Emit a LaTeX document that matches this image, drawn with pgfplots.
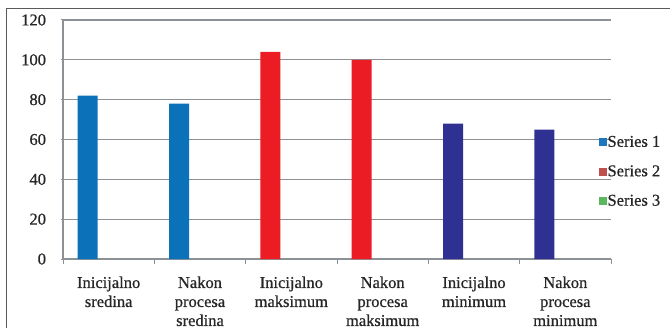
\documentclass[border=0pt]{standalone}
\usepackage{pgfplots}
\pgfplotsset{compat=1.18}
\usepackage{fontspec}
\setmainfont{Liberation Serif}
\newfontfamily\chartfont[FakeBold=0.7]{Liberation Serif}

\definecolor{barblue}{HTML}{0B72B9}
\definecolor{barred}{HTML}{EC1C24}
\definecolor{barpurple}{HTML}{2E3192}
\definecolor{legblue}{HTML}{1F77C0}
\definecolor{legred}{HTML}{C0504D}
\definecolor{leggreen}{HTML}{5CB85C}
\definecolor{gridgray}{HTML}{8C9196}
\definecolor{framegray}{HTML}{5A5A5A}

\begin{document}
\begin{tikzpicture}[x=1bp,y=1bp]
\useasboundingbox (0,0) rectangle (670,327);
\clip (0,0) rectangle (670,327);
% outer chart frame
\draw[framegray, line width=1.3bp] (6.5,-20) -- (6.5,318.5) -- (800,318.5);

\begin{axis}[
  at={(63bp,68bp)}, anchor=south west,
  scale only axis,
  width=548bp, height=239bp,
  xmin=-0.5, xmax=5.5,
  ymin=0, ymax=120,
  ytick={0,20,...,120},
  xtick={0,...,5},
  xticklabels={{Inicijalno\\sredina},{Nakon\\procesa\\sredina},{Inicijalno\\maksimum},{Nakon\\procesa\\maksimum},{Inicijalno\\minimum},{Nakon\\procesa\\minimum}},
  minor xtick={-0.5,0.5,...,5.5},
  major x tick style={draw=none},
  minor x tick style={gridgray, line width=1bp},
  y tick style={gridgray, line width=1bp},
  tick align=outside,
  major tick length=5bp, minor tick length=5bp,
  ymajorgrids,
  major grid style={gridgray, line width=1.1bp},
  axis line style={gridgray, line width=1.1bp},
  axis x line=bottom, axis y line=left,
  x axis line style={-}, y axis line style={-},
  /pgf/number format/assume math mode=true,
  tick label style={font=\chartfont\fontsize{16.5bp}{19bp}\selectfont, text=black!85},
  xticklabel style={align=center, yshift=-9bp},
  yticklabel style={xshift=-11bp},
  ybar, bar width=20bp, bar shift=-21bp,
  legend cell align=left,
  legend style={draw=none, fill=none, at={(axis description cs:0.978,0.366)}, anchor=west,
    font=\chartfont\fontsize{16.5bp}{19bp}\selectfont, text=black!85, inner sep=0pt,
    row sep=15bp, nodes={inner sep=1bp}},
  legend image code/.code={\fill[#1] (0bp,-3.5bp) rectangle (7bp,3.5bp);},
]
\addplot[fill=barblue, draw=none, forget plot] coordinates {(0,82) (1,78)};
\addplot[fill=barred, draw=none, forget plot] coordinates {(2,104) (3,100)};
\addplot[fill=barpurple, draw=none, forget plot] coordinates {(4,68) (5,65)};
\addlegendimage{legblue}
\addlegendentry{Series 1}
\addlegendimage{legred}
\addlegendentry{Series 2}
\addlegendimage{leggreen}
\addlegendentry{Series 3}
\end{axis}
\end{tikzpicture}
\end{document}
